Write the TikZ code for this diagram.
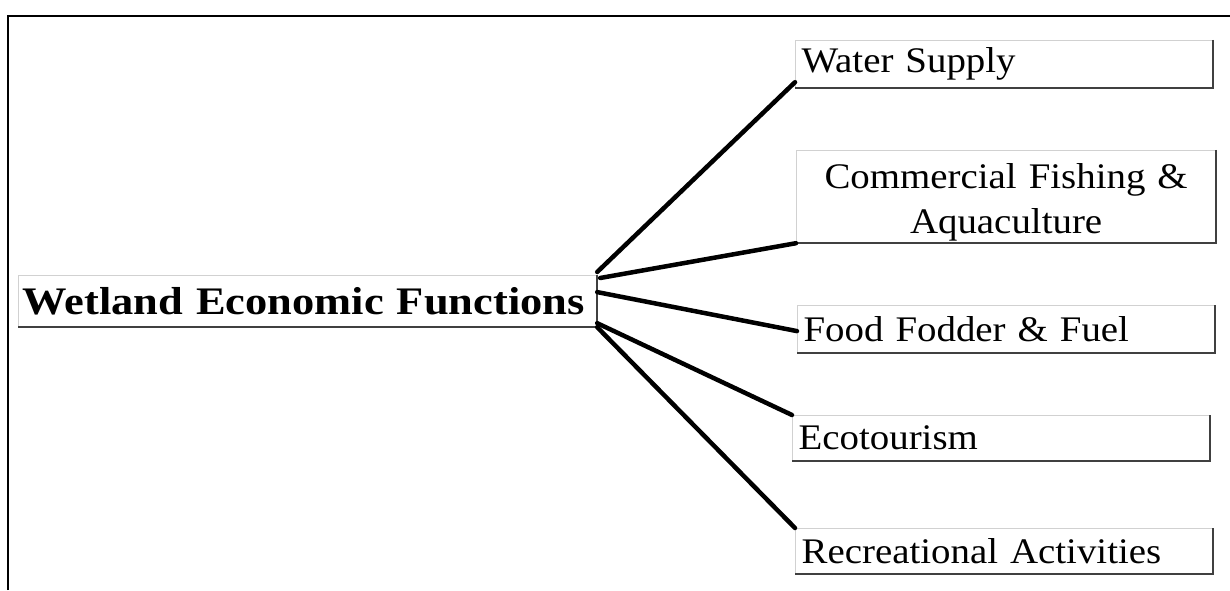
\documentclass[tikz,border=0pt]{standalone}
\usepackage{fontspec}
\setmainfont{Liberation Serif}
\newfontfamily\boxfont[FakeStretch=1.08]{Liberation Serif}
\newfontfamily\titlefont[FakeStretch=1.14]{Liberation Serif}

\tikzset{
  fbox/.style={draw=black!18, line width=1.2pt, anchor=north west, inner xsep=6pt, inner ysep=0pt,
    text width=405pt, align=left, font=\boxfont\fontsize{36}{45}\selectfont},
  edge dark/.style={draw=black!75, line width=2pt},
  link/.style={line width=4.5pt, line cap=round}
}

\begin{document}
\begin{tikzpicture}[x=1pt,y=1pt]
\useasboundingbox (0,0) rectangle (1230,590);
% frame
\draw[line width=2pt] (8,0) -- (8,574) -- (1230,574);

% boxes
\node[fbox, inner xsep=4pt, text width=570pt, minimum height=51pt, font=\titlefont\fontsize{39}{46}\selectfont\bfseries] (main) at (18,315) {Wetland Economic Functions};
\node[fbox, minimum height=47pt] (water) at (795,550) {Water Supply};
\node[fbox, minimum height=92pt, text width=407pt, align=center] (fish) at (796,440) {\rule{0pt}{37pt}Commercial Fishing \&\\ Aquaculture};
\node[fbox, minimum height=47pt] (food) at (797,285) {Food Fodder \& Fuel};
\node[fbox, minimum height=45pt] (eco) at (792,175) {Ecotourism};
\node[fbox, minimum height=45pt] (rec) at (795,62) {Recreational Activities};

\foreach \n in {main,water,fish,food,eco,rec}
  \draw[edge dark] (\n.north east) -- (\n.south east) -- (\n.south west);

% links
\draw[link] ([yshift=3pt]main.north east) -- ([yshift=6pt]water.south west);
\draw[link] ([xshift=3pt,yshift=-3pt]main.north east) -- (fish.south west);
\draw[link] ([yshift=9pt]main.east) -- ([yshift=-2pt]food.west);
\draw[link] ([yshift=4pt]main.south east) -- (eco.north west);
\draw[link] (main.south east) -- (rec.north west);
\end{tikzpicture}
\end{document}
